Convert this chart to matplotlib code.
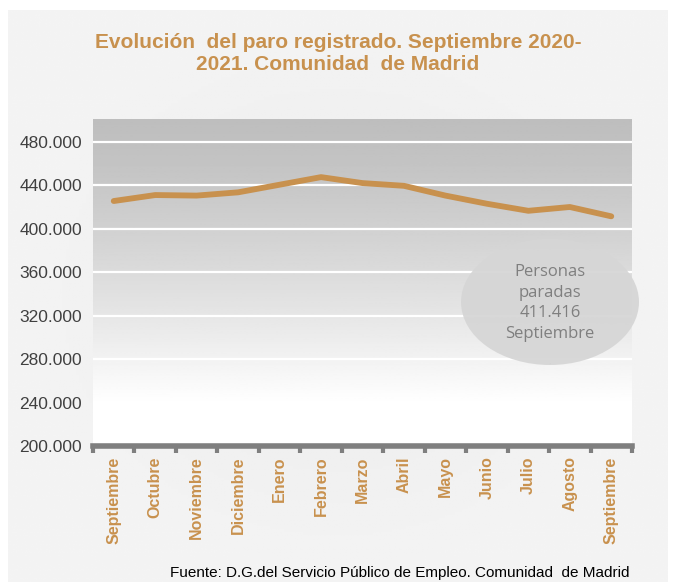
import numpy as np
import matplotlib
matplotlib.use("Agg")
from matplotlib import pyplot as plt
from matplotlib.patches import Ellipse
from matplotlib.ticker import FuncFormatter

# Data
meses = ['Septiembre', 'Octubre', 'Noviembre', 'Diciembre', 'Enero', 'Febrero',
         'Marzo', 'Abril', 'Mayo', 'Junio', 'Julio', 'Agosto', 'Septiembre']
parados = [425500, 431000, 430500, 433500, 440500, 447500,
           442000, 439500, 430500, 423000, 416500, 420000, 411416]
y_ticks = [200000, 240000, 280000, 320000, 360000, 400000, 440000, 480000]

TAN = '#c8914e'
W, H = 673, 582

fig = plt.figure(figsize=(W/100, H/100), dpi=100)
fig.patch.set_facecolor('white')

# outer chart panel with soft radial shading
bg = fig.add_axes([8/W, 0, 660/W, 1-10/H], zorder=-5)
yy, xx = np.mgrid[-1:1:200j, -1:1:200j]
rad = np.sqrt(xx**2 + yy**2)
shade = 0.955 - 0.035*np.clip(1-rad, 0, 1)
bg.imshow(shade, cmap='gray', vmin=0, vmax=1, extent=[0, 1, 0, 1], aspect='auto')
bg.axis('off')

ax = fig.add_axes([93/W, 1-446/H, 539/W, (446-119)/H])
x = np.arange(len(meses))
ax.set_xlim(-0.5, len(meses)-0.5)
ax.set_ylim(200000, 501000)

# vertical gradient in plot area (dark at top, white at bottom)
grad = np.linspace(0, 1, 256).reshape(-1, 1)
vals = 0.745 + 0.255*np.clip(grad*1.15, 0, 1)**1.3
ax.imshow(vals, cmap='gray', vmin=0, vmax=1, aspect='auto', origin='upper',
          extent=[-0.5, len(meses)-0.5, 200000, 501000], zorder=0)

for v in y_ticks[1:]:
    ax.axhline(v, color='white', lw=1.6, zorder=1)

ax.plot(x, parados, color=TAN, lw=4.2, solid_capstyle='round',
        solid_joinstyle='round', zorder=3)

for s in ['top', 'right', 'left']:
    ax.spines[s].set_visible(False)
ax.spines['bottom'].set_color('#7f7f7f')
ax.spines['bottom'].set_linewidth(4)

ax.set_yticks(y_ticks)
ax.yaxis.set_major_formatter(FuncFormatter(lambda v, p: f'{int(v):,}'.replace(',', '.')))
ax.tick_params(axis='y', length=0, pad=8, labelsize=12.5, labelcolor='#404040')
for lb in ax.get_yticklabels():
    lb.set_family('Liberation Sans')

ax.set_xticks(np.arange(-0.5, len(meses)))
ax.set_xticklabels([])
ax.tick_params(axis='x', length=5, width=3, color='#7f7f7f', direction='out')
for i, m in enumerate(meses):
    ax.text(i, 190500, m, rotation=90, ha='center', va='top', color=TAN,
            fontsize=11.5, fontweight='bold', family='Liberation Sans')

# bubble with latest value
ell = Ellipse((550/W, 1-302/H), 178/W, 126/H, transform=fig.transFigure,
              facecolor='#d6d6d6', edgecolor='none', zorder=5, alpha=0.95)
fig.patches.append(ell)
fig.text(550/W, 1-303/H, 'Personas\nparadas\n411.416\nSeptiembre', ha='center',
         va='center', fontsize=12, color='#7f7f7f', family='Open Sans',
         linespacing=1.4, zorder=6)
fig.text(549/W, 1-366/H, '.', ha='center', va='bottom', fontsize=6, color='#666666')

fig.text(338/W, 1-54/H, 'Evolución  del paro registrado. Septiembre 2020-\n2021. Comunidad  de Madrid',
         ha='center', va='center', color=TAN, fontsize=15, fontweight='bold',
         family='Liberation Sans', linespacing=1.2)

fig.text(630/W, 1-573/H, 'Fuente: D.G.del Servicio Público de Empleo. Comunidad  de Madrid',
         ha='right', va='center', fontsize=11, color='black', family='Liberation Sans')

fig.savefig('out.png', dpi=100)
